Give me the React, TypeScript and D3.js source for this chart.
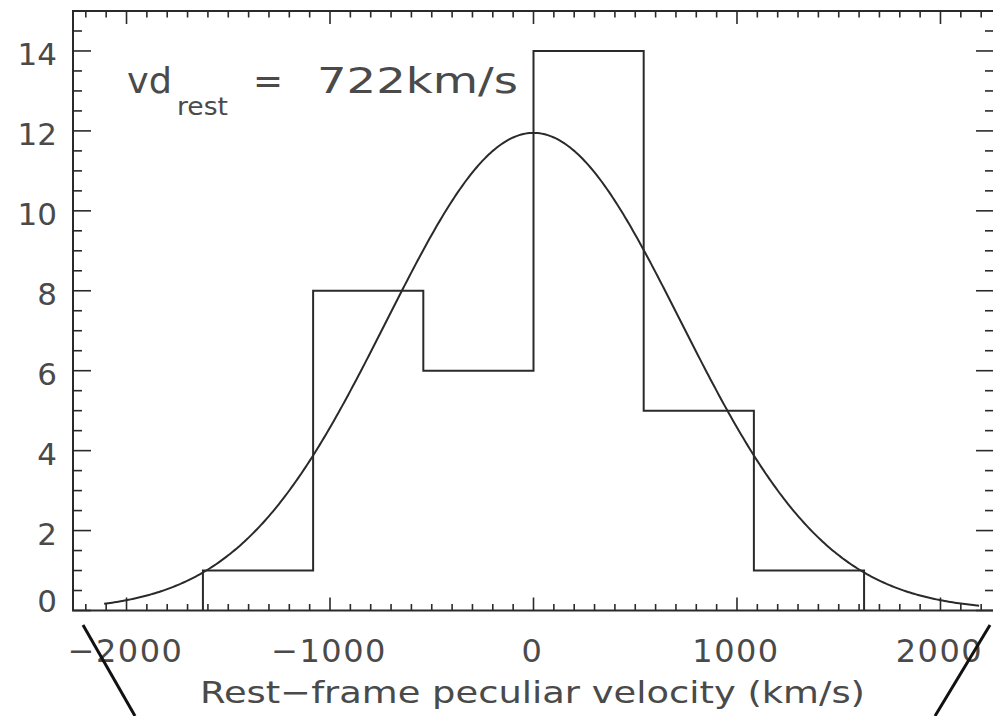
import React from "react";
import * as d3 from "d3";

const binEdges = [-1624.5, -1083, -541.5, 0, 541.5, 1083, 1624.5];
const binCounts = [1, 8, 6, 14, 5, 1];
const xTickValues = [-2000, -1000, 0, 1000, 2000];
const xTickLabels = ["\u22122000", "\u22121000", "0", "1000", "2000"];
const yTickValues = [0, 2, 4, 6, 8, 10, 12, 14];
const yTickLabels = ["0", "2", "4", "6", "8", "10", "12", "14"];
const fitSigma = 722;
const fitPeak = 11.95;
const fitRange = [-2110, 2190];

const W = 993;
const H = 716;
const L = 73, R = 994, T = 11, B = 610.5;
const INK = "#2a2a2a";
const TXT = "#4a4a4a";
const FONT = "'DejaVu Sans', sans-serif";

export default function App() {
  const x = d3.scaleLinear().domain([-2263, 2263]).range([L, R]);
  const y = d3.scaleLinear().domain([0, 15]).range([B, T]);

  const minorX = d3.range(-2200, 2201, 100);
  const minorY = d3.range(0, 15.01, 0.5);

  const pts: [number, number][] = [];
  pts.push([binEdges[0], 0]);
  binCounts.forEach((c, i) => {
    pts.push([binEdges[i], c]);
    pts.push([binEdges[i + 1], c]);
  });
  pts.push([binEdges[binEdges.length - 1], 0]);
  const line = d3.line<[number, number]>().x((d) => x(d[0])).y((d) => y(d[1]));
  const histPath = line(pts) || "";

  const curvePts: [number, number][] = d3
    .range(fitRange[0], fitRange[1] + 1, 10)
    .map((v) => [v, fitPeak * Math.exp(-(v * v) / (2 * fitSigma * fitSigma))]);
  const curvePath = line(curvePts) || "";

  const xMajorLen = 13, xMinorLen = 6.5, yMajorLen = 18, yMinorLen = 9;

  return (
    <svg width={W} height={H} style={{ position: "absolute", left: 0, top: 0, background: "#fff" }}>
      <rect x={0} y={0} width={W} height={H} fill="#fff" />
      <rect x={L} y={T} width={R - L} height={B - T} fill="none" stroke={INK} strokeWidth={2} />
      {minorX.map((v) => {
        const major = v % 1000 === 0;
        const len = major ? xMajorLen : xMinorLen;
        return (
          <g key={"xt" + v}>
            <line x1={x(v)} x2={x(v)} y1={B} y2={B - len} stroke={INK} strokeWidth={1.6} />
            <line x1={x(v)} x2={x(v)} y1={T} y2={T + len} stroke={INK} strokeWidth={1.6} />
          </g>
        );
      })}
      {minorY.map((v) => {
        const major = Math.abs(v % 2) < 1e-6;
        const len = major ? yMajorLen : yMinorLen;
        return (
          <g key={"yt" + v}>
            <line x1={L} x2={L + len} y1={y(v)} y2={y(v)} stroke={INK} strokeWidth={1.6} />
            <line x1={R} x2={R - len} y1={y(v)} y2={y(v)} stroke={INK} strokeWidth={1.6} />
          </g>
        );
      })}
      <path d={histPath} fill="none" stroke={INK} strokeWidth={2} />
      <path d={curvePath} fill="none" stroke={INK} strokeWidth={2} />
      {yTickValues.map((v, i) => (
        <text
          key={"yl" + v}
          x={57}
          y={Math.min(y(v) + 3, 601)}
          textAnchor="end"
          dominantBaseline="central"
          fontFamily={FONT}
          fontSize={31}
          fill={TXT}
        >
          {yTickLabels[i]}
        </text>
      ))}
      {xTickValues.map((v, i) => (
        <text
          key={"xl" + v}
          x={x(v) - 1}
          y={662}
          textAnchor="middle"
          fontFamily={FONT}
          fontSize={32}
          letterSpacing={1.5}
          fill={TXT}
        >
          {xTickLabels[i]}
        </text>
      ))}
      <text x={200} y={703} fontFamily={FONT} fontSize={31} fill={TXT} textLength={665} lengthAdjust="spacingAndGlyphs">
        Rest{"\u2212"}frame peculiar velocity (km/s)
      </text>
      <text x={127} y={93} fontFamily={FONT} fontSize={35} fill={TXT} textLength={45} lengthAdjust="spacingAndGlyphs">
        vd
      </text>
      <text x={177} y={115} fontFamily={FONT} fontSize={25} fill={TXT} textLength={51} lengthAdjust="spacingAndGlyphs">
        rest
      </text>
      <text x={253} y={93} fontFamily={FONT} fontSize={35} fill={TXT} textLength={30} lengthAdjust="spacingAndGlyphs">
        =
      </text>
      <text x={317} y={93} fontFamily={FONT} fontSize={35} fill={TXT} textLength={201} lengthAdjust="spacingAndGlyphs">
        722km/s
      </text>
      <line x1={83} y1={625} x2={135} y2={716} stroke="#111" strokeWidth={3} />
      <line x1={990} y1={625} x2={935} y2={716} stroke="#111" strokeWidth={3} />
    </svg>
  );
}
